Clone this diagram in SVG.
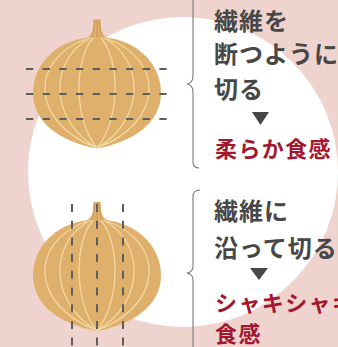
<svg xmlns="http://www.w3.org/2000/svg" xmlns:xlink="http://www.w3.org/1999/xlink" width="338" height="347" viewBox="0 0 338 347">
  <style>
    .body { fill: #dfb06c; }
    .vein { fill: none; stroke: #f2d9a0; stroke-width: 1.3; stroke-linecap: round; }
    .stemline { fill: none; stroke: #c08f4c; stroke-width: 0.8; }
    .cut { stroke: #5e5e5e; stroke-width: 2; fill: none; }
    .brace { fill: none; stroke: #7a7a7a; stroke-width: 1.1; }
    .txt { font-family: "Noto Sans CJK JP", "Noto Sans", sans-serif; font-weight: 700; }
    .dark { fill: #474747; font-size: 24px; letter-spacing: 1px; }
    .red { fill: #a3182f; font-size: 22px; letter-spacing: 1.4px; }
    .tri { fill: #474747; }
  </style>
  <defs>
    <!-- one onion: stem, round body and light veins -->
    <g id="onion">
      <path class="body" d="M93.3,19.5 L100.7,19.5 L101,28 Q102,35 108,38.5 L86,38.5 Q92,35 93,28 Z"/>
      <path class="stemline" d="M95.2,20 L92.5,37 M97,20 L97,37 M98.8,20 L101.5,37"/>
      <path class="body" d="M97,37 C134,37 161,62 161,93 C161,123 133,142 97,148.5 C61,142 33,123 33,93 C33,62 60,37 97,37 Z"/>
      <path class="vein" d="M93,38 C73.7,60 73.7,120 97,148 M101,38 C120.3,60 120.3,120 97,148 M90,38 C48.8,60 48.8,120 97,148 M104,38 C145.2,60 145.2,120 97,148 M86,39 C29.5,60 29.5,122 97,148 M108,39 C164.5,60 164.5,122 97,148"/>
    </g>
  </defs>

  <!-- backdrop -->
  <rect x="0" y="0" width="338" height="347" fill="#eed3cf"/>
  <circle cx="183" cy="172" r="155" fill="#ffffff"/>

  <!-- onion cut across the fibres -->
  <g id="onion-across">
    <use xlink:href="#onion"/>
    <g class="cut" stroke-dasharray="7.3 9.37">
      <line x1="26" y1="69" x2="167" y2="69"/>
      <line x1="26" y1="94" x2="167" y2="94"/>
      <line x1="26" y1="119" x2="167" y2="119"/>
    </g>
  </g>

  <!-- onion cut along the fibres -->
  <g id="onion-along">
    <use xlink:href="#onion" transform="translate(0,182.5)"/>
    <g class="cut" stroke-dasharray="8 8.7">
      <line x1="72" y1="204" x2="72" y2="350"/>
      <line x1="97" y1="204" x2="97" y2="350"/>
      <line x1="123" y1="204" x2="123" y2="350"/>
    </g>
  </g>

  <!-- braces linking each onion to its note -->
  <g id="connectors">
    <path class="brace" d="M193,-5 L193,76 Q193,83 187,84 Q193,85 193,92 L193,162 Q193,168 199,168"/>
    <path class="brace" d="M200,190 Q193,190 193,197 L193,266 Q193,272 187,273 Q193,274 193,280 L193,352"/>
  </g>

  <!-- note: across the fibres -->
  <g id="note-across">
    <text class="txt dark" x="214" y="30">繊維を</text>
    <text class="txt dark" x="214" y="63">断つように</text>
    <text class="txt dark" x="214" y="98">切る</text>
    <path class="tri" d="M252,112 L269,112 L260.5,125 Z"/>
    <text class="txt red" x="215" y="157">柔らか食感</text>
  </g>

  <!-- note: along the fibres -->
  <g id="note-along">
    <text class="txt dark" x="214" y="220">繊維に</text>
    <text class="txt dark" x="214" y="257">沿って切る</text>
    <path class="tri" d="M250,268 L268,268 L259,280 Z"/>
    <text class="txt red" x="215" y="310.5">シャキシャキ</text>
    <text class="txt red" x="215" y="342">食感</text>
  </g>
</svg>
